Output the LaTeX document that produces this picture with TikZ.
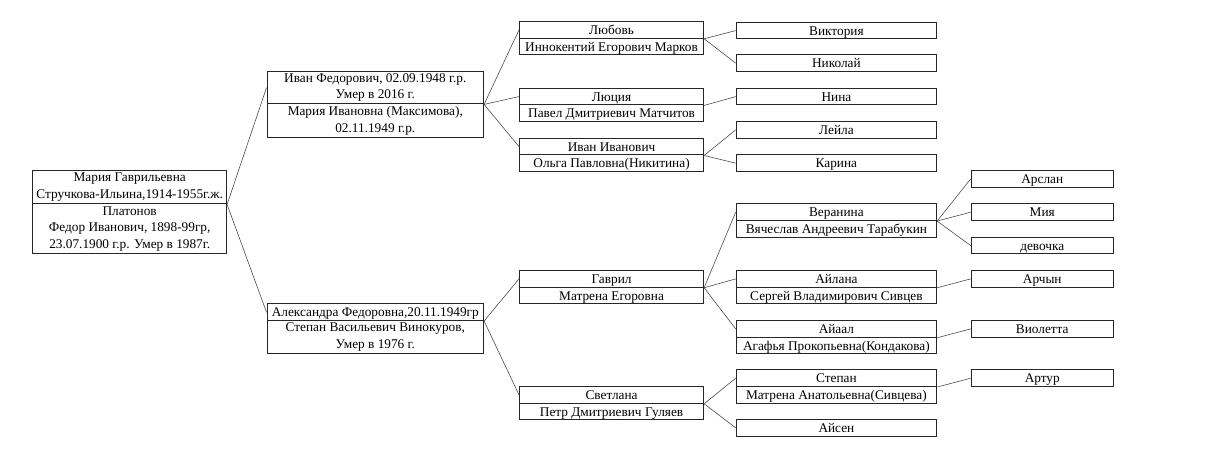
\documentclass[tikz,border=0pt]{standalone}
\usepackage{fontspec}
\setmainfont{Liberation Serif}
\begin{document}
\begin{tikzpicture}[x=1pt,y=-1pt,
  cell/.style={draw=black!85, line width=1.1pt, inner sep=0pt, anchor=north west,
    align=center, font=\fontsize{13.3}{16.4}\selectfont},
  w1/.style={minimum width=193.7},
  w2/.style={minimum width=216.5},
  w3/.style={minimum width=184},
  w4/.style={minimum width=200.3},
  w5/.style={minimum width=142},
  h1/.style={minimum height=16.67, text height=10.5pt, text depth=1pt},
  link/.style={draw=black!70, line width=0.6pt}]
\useasboundingbox (0,0) rectangle (1227,468);
% column 1
\node[cell,w1,minimum height=33.3] (rootT) at (32.3,170) {Мария Гаврильевна\\Стручкова-Ильина,1914-1955г.ж.};
\node[cell,w1,minimum height=50] (rootB) at (32.3,203.3) {Платонов\\Федор Иванович, 1898-99гр,\\23.07.1900 г.р. Умер в 1987г.};
% column 2
\node[cell,w2,minimum height=32.3] (ivanT) at (266.5,71) {Иван Федорович, 02.09.1948 г.р.\\Умер в 2016 г.};
\node[cell,w2,minimum height=33.7] (ivanB) at (266.5,103.3) {Мария Ивановна (Максимова),\\02.11.1949 г.р.};
\node[cell,w2,h1] (alexT) at (266.5,303.3) {Александра Федоровна,20.11.1949гр};
\node[cell,w2,minimum height=32.7] (alexB) at (266.5,320) {Степан Васильевич Винокуров,\\Умер в 1976 г.};
% column 3
\node[cell,w3,h1] (lubT) at (519,21) {Любовь};
\node[cell,w3,h1] (lubB) at (519,37.7) {Иннокентий Егорович Марков};
\node[cell,w3,h1] (lucT) at (519,87.7) {Люция};
\node[cell,w3,h1] (lucB) at (519,104.3) {Павел Дмитриевич Матчитов};
\node[cell,w3,h1] (iiT) at (519,137.7) {Иван Иванович};
\node[cell,w3,h1] (iiB) at (519,154.3) {Ольга Павловна(Никитина)};
\node[cell,w3,h1] (gavT) at (519,270) {Гаврил};
\node[cell,w3,h1] (gavB) at (519,286.7) {Матрена Егоровна};
\node[cell,w3,h1] (svT) at (519,386) {Светлана};
\node[cell,w3,h1] (svB) at (519,402.7) {Петр Дмитриевич Гуляев};
% column 4
\node[cell,w4,h1] (vik) at (735.7,21.7) {Виктория};
\node[cell,w4,h1] (nik) at (735.7,54.3) {Николай};
\node[cell,w4,h1] (nina) at (735.7,87.7) {Нина};
\node[cell,w4,h1] (leila) at (735.7,121) {Лейла};
\node[cell,w4,h1] (karina) at (735.7,154.3) {Карина};
\node[cell,w4,h1] (verT) at (735.7,203.3) {Веранина};
\node[cell,w4,h1] (verB) at (735.7,220) {Вячеслав Андреевич Тарабукин};
\node[cell,w4,h1] (ailT) at (735.7,270) {Айлана};
\node[cell,w4,h1] (ailB) at (735.7,286.7) {Сергей Владимирович Сивцев};
\node[cell,w4,h1] (aiaT) at (735.7,320) {Айаал};
\node[cell,w4,h1] (aiaB) at (735.7,336.7) {Агафья Прокопьевна(Кондакова)};
\node[cell,w4,h1] (stT) at (735.7,369.3) {Степан};
\node[cell,w4,h1] (stB) at (735.7,386) {Матрена Анатольевна(Сивцева)};
\node[cell,w4,h1] (aisen) at (735.7,419) {Айсен};
% column 5
\node[cell,w5,h1] (arslan) at (970.7,170) {Арслан};
\node[cell,w5,h1] (miya) at (970.7,203.3) {Мия};
\node[cell,w5,h1] (devochka) at (970.7,236.7) {девочка};
\node[cell,w5,h1] (archyn) at (970.7,270) {Арчын};
\node[cell,w5,h1] (violetta) at (970.7,320) {Виолетта};
\node[cell,w5,h1] (artur) at (970.7,369.3) {Артур};
% connectors
\draw[link] (rootT.south east) -- (ivanT.west);
\draw[link] (rootT.south east) -- (alexT.west);
\draw[link] (ivanT.south east) -- (lubT.west);
\draw[link] (ivanT.south east) -- (lucT.west);
\draw[link] (ivanT.south east) -- (iiT.west);
\draw[link] (alexT.south east) -- (gavT.west);
\draw[link] (alexT.south east) -- (svT.west);
\draw[link] (lubT.south east) -- (vik.west);
\draw[link] (lubT.south east) -- (nik.west);
\draw[link] (lucT.south east) -- (nina.west);
\draw[link] (iiT.south east) -- (leila.west);
\draw[link] (iiT.south east) -- (karina.west);
\draw[link] (gavT.south east) -- (verT.west);
\draw[link] (gavT.south east) -- (ailT.west);
\draw[link] (gavT.south east) -- (aiaT.west);
\draw[link] (verT.south east) -- (arslan.west);
\draw[link] (verT.south east) -- (miya.west);
\draw[link] (verT.south east) -- (devochka.west);
\draw[link] (ailT.south east) -- (archyn.west);
\draw[link] (aiaT.south east) -- (violetta.west);
\draw[link] (svT.south east) -- (stT.west);
\draw[link] (svT.south east) -- (aisen.west);
\draw[link] (stT.south east) -- (artur.west);
\end{tikzpicture}
\end{document}
